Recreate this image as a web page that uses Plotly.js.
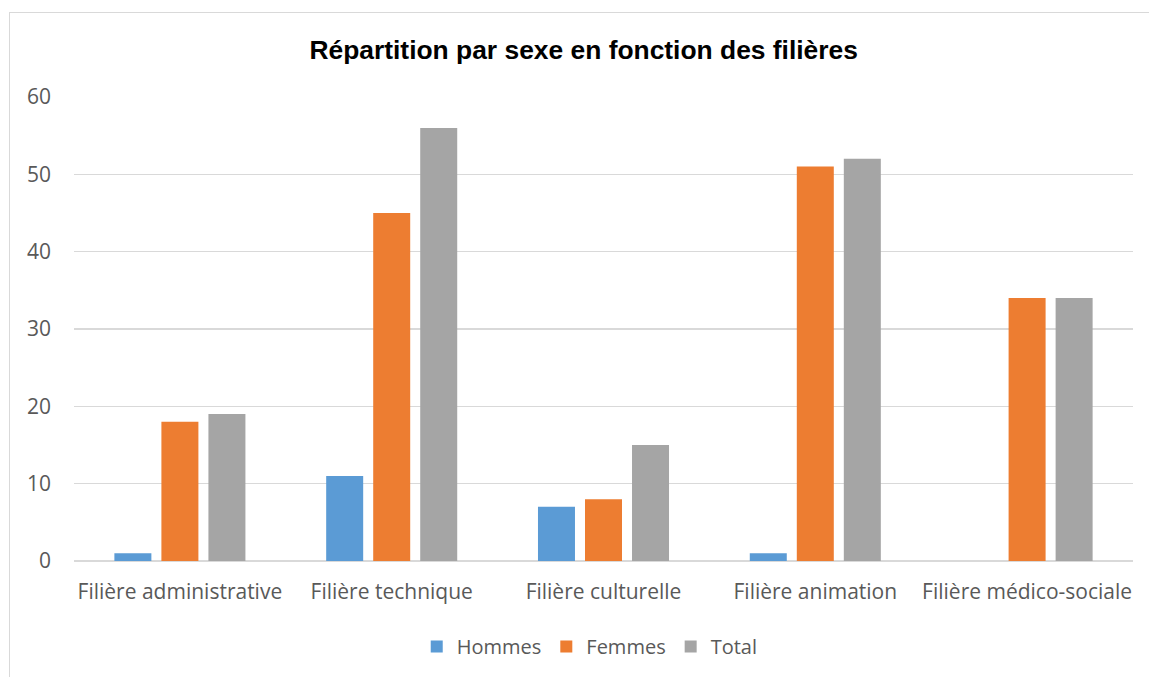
<!DOCTYPE html>
<html>
<head>
<meta charset="utf-8">
<script src="https://cdn.plot.ly/plotly-3.0.1.min.js"></script>
<style>
html,body{margin:0;padding:0;background:#fff;}
#wrap{position:relative;width:1149px;height:677px;overflow:hidden;}
#chart{width:1149px;height:677px;}
#frame{position:absolute;left:9px;top:12px;width:1160px;height:700px;border-top:1.5px solid #D9D9D9;border-left:1.5px solid #D9D9D9;pointer-events:none;}
</style>
</head>
<body>
<div id="wrap"><div id="chart"></div><div id="frame"></div></div>
<script>
const categories = ["Filière administrative","Filière technique","Filière culturelle","Filière animation","Filière médico-sociale"];
const hommes = [1, 11, 7, 1, 0];
const femmes = [18, 45, 8, 51, 34];
const total = [19, 56, 15, 52, 34];
const yTicks = [0, 10, 20, 30, 40, 50, 60];

const font = "'Open Sans', 'Noto Sans', sans-serif";
const textColor = "#595959";

const traces = [
  {type:"bar", name:"Hommes", x:categories, y:hommes, marker:{color:"#5B9BD5"}},
  {type:"bar", name:"Femmes", x:categories, y:femmes, marker:{color:"#ED7D31"}},
  {type:"bar", name:"Total", x:categories, y:total, marker:{color:"#A5A5A5"}}
];

const layout = {
  width:1149, height:677,
  margin:{l:74, r:16, t:97, b:115},
  paper_bgcolor:"#fff", plot_bgcolor:"#fff",
  barmode:"group", bargap:0.334, bargroupgap:0.213,
  title:{text:"<b>Répartition par sexe en fonction des filières</b>", x:0.508, xanchor:"center", y:0.926, yanchor:"middle",
         font:{family:"'Liberation Sans', Arial, sans-serif", size:26.4, color:"#000"}},
  xaxis:{type:"category", showgrid:false, zeroline:false, showline:false, ticks:"",
         tickfont:{family:font, size:21, color:textColor}, ticklabelstandoff:16},
  yaxis:{range:[0,60], tickvals:yTicks, showgrid:true, gridcolor:"#D9D9D9", gridwidth:1.3,
         zeroline:true, zerolinecolor:"#D9D9D9", zerolinewidth:1.3, showline:false, ticks:"",
         tickfont:{family:font, size:21, color:textColor}, ticklabelstandoff:22},
  legend:{orientation:"h", x:0.487, xanchor:"center", y:-0.14, yanchor:"top",
          font:{family:font, size:20, color:textColor}, itemwidth:30, traceorder:"normal"},
  showlegend:true
};

Plotly.newPlot("chart", traces, layout, {displayModeBar:false, staticPlot:true});
</script>
</body>
</html>
